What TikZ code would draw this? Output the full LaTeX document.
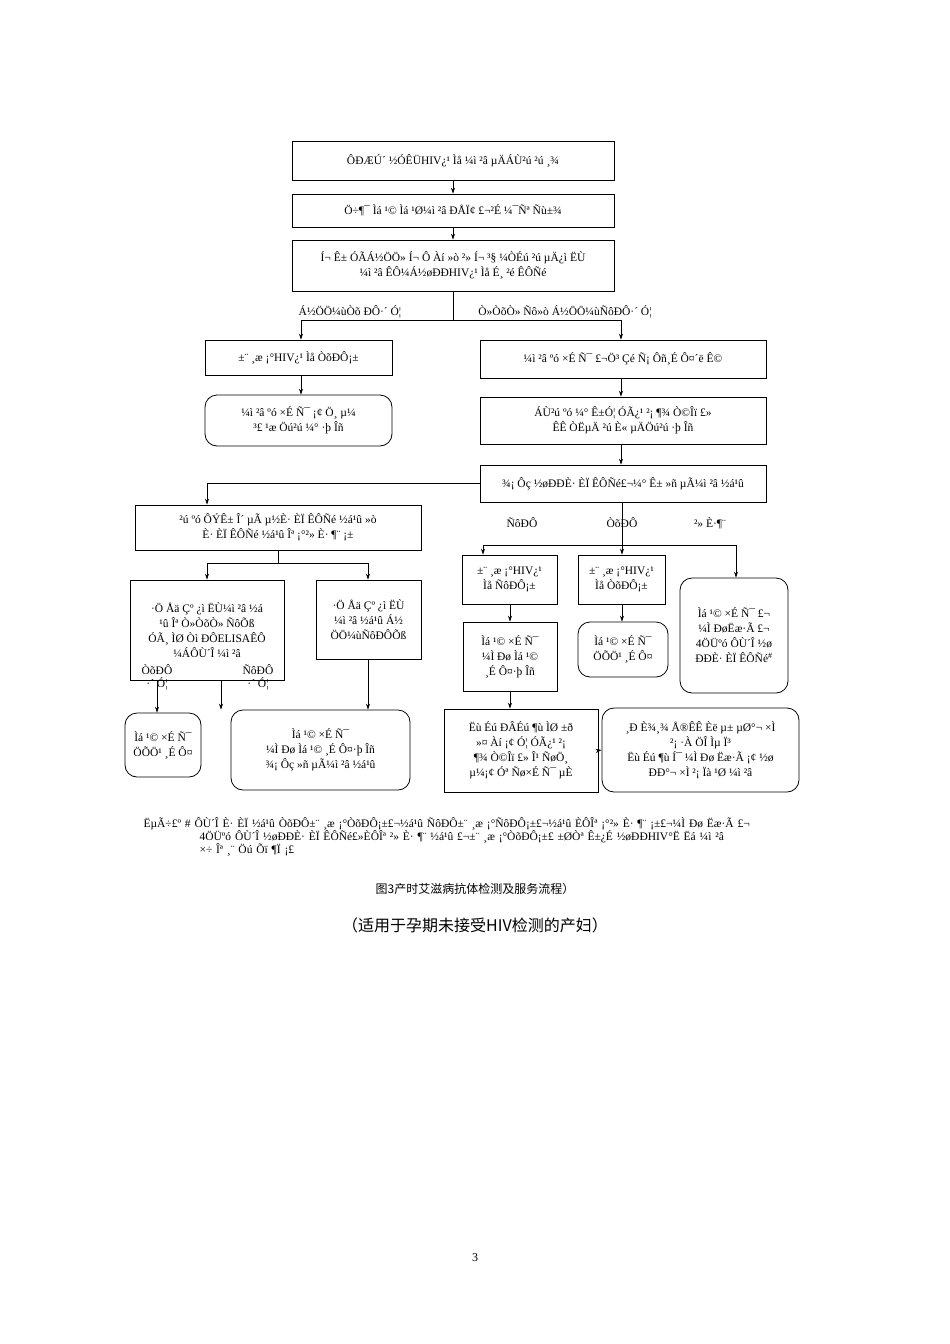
\documentclass[tikz,border=0pt]{standalone}
\usepackage{fontspec}
\setmainfont{Liberation Serif}
\newfontfamily\cjk{Noto Sans CJK SC}
\usetikzlibrary{arrows.meta}
\begin{document}
\begin{tikzpicture}[x=1pt,y=-1pt,
  bx/.style={draw,line width=0.8pt,align=center,inner sep=2pt,font=\fontsize{11.5}{15}\selectfont},
  rbx/.style={bx,rounded corners=12pt},
  lab/.style={font=\fontsize{11.5}{13}\selectfont,align=center},
  ar/.style={-{Stealth[length=6pt,width=4pt]},line width=0.6pt}]
\useasboundingbox[fill=white] (0,0) rectangle (950,1344);
\newcommand{\bb}[6]{\node[#2,minimum width=#5-#3,minimum height=#6-#4] (#1) at ({(#3+#5)/2},{(#4+#6)/2})}
\bb{b1}{bx}{292}{141}{614}{180}{ÔÐÆÚ´ ½ÓÊÜHIV¿¹ Ìå ¼ì ²â µÄÁÙ²ú ²ú ¸¾};
\bb{b2}{bx}{292}{194}{614}{227}{Ö÷¶¯ Ìá ¹© Ìá ¹Ø¼ì ²â ÐÅÏ¢ £¬²É ¼¯Ñª Ñù±¾};
\bb{b3}{bx}{292}{240}{614}{291}{Í¬ Ê± ÓÃÁ½ÖÖ» Í¬ Ô Àí »ò ²» Í¬ ³§ ¼ÒÉú ²ú µÄ¿ì ËÙ\\¼ì ²â ÊÔ¼Á½øÐÐHIV¿¹ Ìå É¸ ²é ÊÔÑé};
\bb{b4}{bx}{205}{340}{392}{375}{±¨ ¸æ ¡°HIV¿¹ Ìå ÒõÐÔ¡±};
\bb{b5}{rbx}{205}{395}{392}{446}{¼ì ²â ºó ×É Ñ¯ ¡¢ Ö¸ µ¼\\³£ ¹æ Öú²ú ¼° ·þ Îñ};
\bb{r1}{bx}{480}{340}{766}{378}{¼ì ²â ºó ×É Ñ¯ £¬Ö³ Çé Ñ¡ Ôñ¸É Ô¤´ë Ê©};
\bb{r2}{bx}{480}{397}{766}{444}{ÁÙ²ú ºó ¼° Ê±Ó¦ ÓÃ¿¹ ²¡ ¶¾ Ò©Îï £»\\ÊÊ ÒËµÄ ²ú È« µÄÖú²ú ·þ Îñ};
\bb{r3}{bx}{480}{465}{766}{502}{¾¡ Ôç ½øÐÐÈ· ÈÏ ÊÔÑé£¬¼° Ê± »ñ µÃ¼ì ²â ½á¹û};
\bb{b6}{bx}{135}{505}{421}{550}{²ú ºó ÔÝÊ± Î´ µÃ µ½È· ÈÏ ÊÔÑé ½á¹û »ò\\È· ÈÏ ÊÔÑé ½á¹û Îª ¡°²» È· ¶¨ ¡±};
\bb{b7}{bx}{130}{580}{284}{680}{·Ö Åä Çº ¿ì ËÙ¼ì ²â ½á\\¹û Îª Ò»ÒõÒ» ÑôÕß\\ÓÃ¸ ÌØ Òì ÐÔELISAÊÔ\\¼ÁÔÙ´Î ¼ì ²â};
\bb{b8}{bx}{316}{580}{421}{659}{·Ö Åä Çº ¿ì ËÙ\\¼ì ²â ½á¹û Á½\\ÖÖ¼ùÑôÐÔÕß};
\bb{b9}{rbx}{125}{713}{201}{777}{Ìá ¹© ×É Ñ¯\\ÖÕÖ¹ ¸É Ô¤};
\bb{b10}{rbx}{231}{710}{410}{790}{Ìá ¹© ×É Ñ¯\\¼Ì Ðø Ìá ¹© ¸É Ô¤·þ Îñ\\¾¡ Ôç »ñ µÃ¼ì ²â ½á¹û};
\bb{c1}{bx}{462}{555}{557}{604}{±¨ ¸æ ¡°HIV¿¹\\Ìå ÑôÐÔ¡±};
\bb{c2}{bx}{578}{555}{665}{604}{±¨ ¸æ ¡°HIV¿¹\\Ìå ÒõÐÔ¡±};
\bb{c3}{rbx}{680}{578}{788}{693}{Ìá ¹© ×É Ñ¯ £¬\\¼Ì ÐøËæ·Ã £¬\\4ÖÜºó ÔÙ´Î ½ø\\ÐÐÈ· ÈÏ ÊÔÑé\textsuperscript{\#}};
\bb{c4}{bx}{463}{622}{557}{691}{Ìá ¹© ×É Ñ¯\\¼Ì Ðø Ìá ¹©\\¸É Ô¤·þ Îñ};
\bb{c5}{rbx}{578}{622}{668}{677}{Ìá ¹© ×É Ñ¯\\ÖÕÖ¹ ¸É Ô¤};
\bb{c6}{bx}{444}{709}{598}{792}{Ëù Éú ÐÂÉú ¶ù ÌØ ±ð\\»¤ Àí ¡¢ Ó¦ ÓÃ¿¹ ²¡\\¶¾ Ò©Îï £» Î¹ ÑøÖ¸\\µ¼¡¢ Óª Ñø×É Ñ¯ µÈ};
\bb{c7}{rbx}{602}{708}{799}{792}{¸Ð È¾¸¾ Å®ÊÊ Èë µ± µØ°¬ ×Ì\\²¡ ·À ÖÎ Ìµ Ï³\\Ëù Éú ¶ù Í¯ ¼Ì Ðø Ëæ·Ã ¡¢ ½ø\\ÐÐ°¬ ×Ì ²¡ Ïà ¹Ø ¼ì ²â};
% connectors
\draw[ar] (b1) -- (b2);
\draw[ar] (b2) -- (b3);
\coordinate (s1) at (453,320);
\draw (b3.south) -- (s1);
\draw[ar] (s1) -| (b4.north -| 301,0);
\draw[ar] (s1) -| (r1.north -| 621,0);
\node[lab] (l1) at (350,312) {Á½ÖÖ¼ùÒõ ÐÔ·´ Ó¦};
\node[lab] (l2) at (565,312) {Ò»ÒõÒ» Ñô»ò Á½ÖÖ¼ùÑôÐÔ·´ Ó¦};
\draw[ar] (b4.south -| 301,0) -- (b5.north -| 301,0);
\draw[ar] (r1.south -| 621,0) -- (r2.north -| 621,0);
\draw[ar] (r2.south -| 621,0) -- (r3.north -| 621,0);
\draw[ar] (r3.west) -| (b6.north -| 207,0);
\coordinate (s2) at (278,563);
\draw (b6.south -| 278,0) -- (s2);
\draw[ar] (s2) -| (b7.north -| 207,0);
\draw[ar] (s2) -| (b8.north -| 368,0);
\draw[ar] (b7.south -| 157,0) -- (b9.north -| 157,0);
\draw[ar] (b7.south -| 221,0) -- (b10.north -| 221,0);
\draw[ar] (b8.south -| 368,0) -- (b10.north -| 368,0);
\node[lab] (l3) at (157,677) {ÒõÐÔ\\·´ Ó¦};
\node[lab] (l4) at (258,677) {ÑôÐÔ\\·´ Ó¦};
\coordinate (s3) at (622,545);
\draw (r3.south -| 622,0) -- (s3);
\draw[ar] (s3) -| (c1.north -| 483,0);
\draw[ar] (s3) -- (c2.north -| 622,0);
\draw[ar] (s3) -| (c3.north -| 736,0);
\node[lab] (l5) at (522,523) {ÑôÐÔ};
\node[lab] (l6) at (622,523) {ÒõÐÔ};
\node[lab] (l7) at (710,523) {²» È·¶¨};
\draw[ar] (c1.south -| 510,0) -- (c4.north -| 510,0);
\draw[ar] (c2.south -| 622,0) -- (c5.north -| 622,0);
\draw[ar] (c4.south -| 510,0) -- (c6.north -| 510,0);
\draw[ar] (c6.east) -- (c7.west);
% footnote
\node[lab,anchor=north west,align=left,text width=680pt] (fn) at (140,814) {ËµÃ÷£º \# ÔÙ´Î È· ÈÏ ½á¹û ÒõÐÔ±¨ ¸æ ¡°ÒõÐÔ¡±£¬½á¹û ÑôÐÔ±¨ ¸æ ¡°ÑôÐÔ¡±£¬½á¹û ÈÔÎª ¡°²» È· ¶¨ ¡±£¬¼Ì Ðø Ëæ·Ã £¬\\\hspace*{56pt}4ÖÜºó ÔÙ´Î ½øÐÐÈ· ÈÏ ÊÔÑé£»ÈÔÎª ²» È· ¶¨ ½á¹û £¬±¨ ¸æ ¡°ÒõÐÔ¡±£ ±ØÒª Ê±¿É ½øÐÐHIV°Ë Ëá ¼ì ²â\\\hspace*{56pt}×÷ Îª ¸¨ Öú Õï ¶Ï ¡£};
\node[font=\cjk\fontsize{12}{14}\selectfont] (cap1) at (475,889) {图3产时艾滋病抗体检测及服务流程）};
\node[font=\cjk\fontsize{16}{18}\selectfont] (cap2) at (475,925) {（适用于孕期未接受HIV检测的产妇）};
\node[font=\fontsize{12}{14}\selectfont] (pg) at (475,1258) {3};
\end{tikzpicture}
\end{document}
